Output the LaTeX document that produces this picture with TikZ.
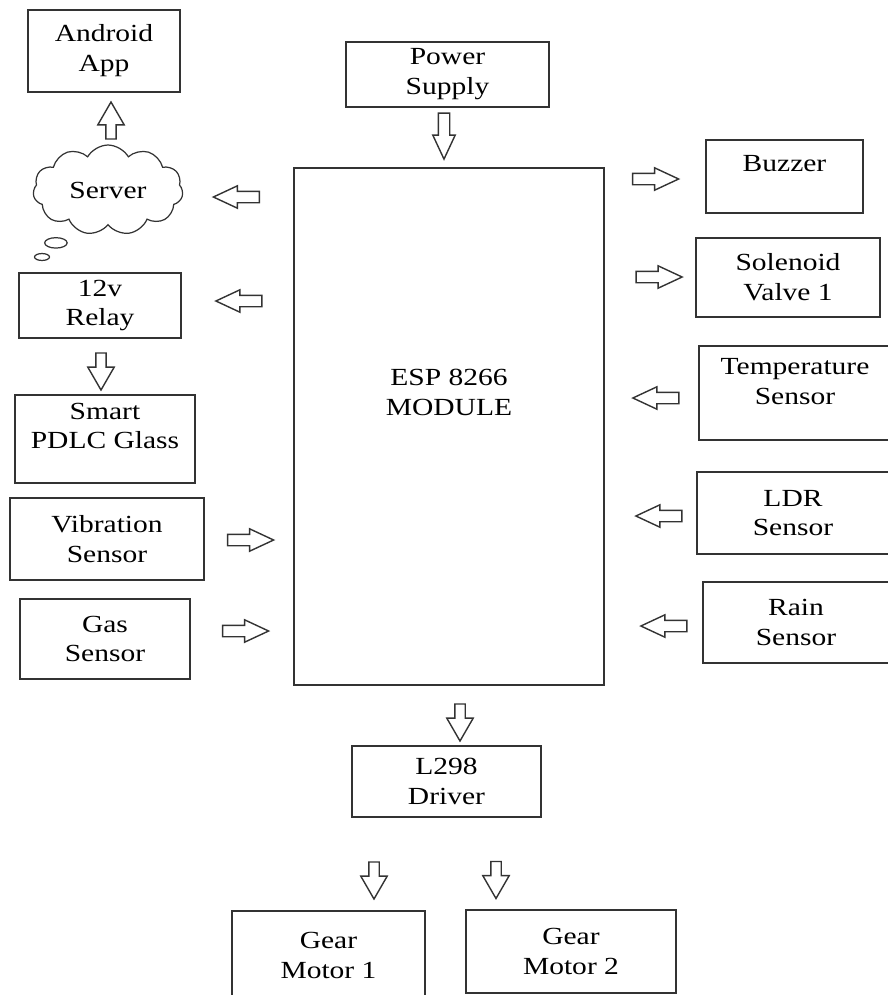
\documentclass[tikz,border=0pt]{standalone}
\usepackage{fontspec}
\setmainfont{Liberation Serif}[FakeStretch=1.2]
\usetikzlibrary{shapes.arrows,shapes.callouts,shapes.symbols}

\begin{document}
\begin{tikzpicture}[
    x=0.02cm, y=-0.02cm,
    box/.style={draw=black!80, line width=0.9pt, align=center,
                font=\fontsize{14}{17}\selectfont, inner sep=2pt},
    blk/.style={single arrow, draw=black!80, line width=0.8pt,
                inner xsep=0pt, inner ysep=0.1cm,
                minimum height=0.92cm,
                single arrow head extend=0.11cm, single arrow tip angle=50},
    blks/.style={blk, inner ysep=0.09cm, minimum height=0.74cm,
                single arrow head extend=0.16cm, single arrow tip angle=60},
]
\useasboundingbox (0,0) rectangle (888,995);
\clip (0,0) rectangle (888,995);

% Centre block
\node[box, minimum width=6.2cm, minimum height=10.34cm,
      label={[align=center, font=\fontsize{14}{17}\selectfont, yshift=0.68cm]center:ESP 8266\\MODULE}]
      (esp) at (449,426.5) {};
\node[box, minimum width=4.06cm, minimum height=1.3cm] (power) at (447.5,74.5) {Power\\Supply};

% Left column
\node[box, minimum width=3.04cm, minimum height=1.64cm] (app) at (104,51) {Android\\App};
\node[cloud callout, draw=black!80, line width=0.7pt, cloud puffs=11, cloud puff arc=120,
      aspect=1.7, minimum width=3.0cm, minimum height=1.8cm, inner sep=0pt,
      font=\fontsize{14}{17}\selectfont,
      callout absolute pointer={(42,257)}] (server) at (108,190) {Server};
\node[box, minimum width=3.24cm, minimum height=1.3cm] (relay) at (100,305.5) {12v\\Relay};
\node[box, minimum width=3.6cm, minimum height=1.76cm] (pdlc) at (105,439) {Smart\\PDLC Glass\\[-2pt]\mbox{}};
\node[box, minimum width=3.88cm, minimum height=1.64cm] (vib) at (107,539) {Vibration\\Sensor};
\node[box, minimum width=3.4cm, minimum height=1.6cm] (gas) at (105,639) {Gas\\Sensor};

% Right column
\node[box, minimum width=3.14cm, minimum height=1.46cm] (buzz) at (784.5,176.5) {Buzzer\\[-2pt]\mbox{}};
\node[box, minimum width=3.68cm, minimum height=1.58cm] (valve) at (788,277.5) {Solenoid\\Valve 1};
\node[box, minimum width=3.84cm, minimum height=1.88cm] (temp) at (795,393) {Temperature\\Sensor\\[-4pt]\mbox{}};
\node[box, minimum width=3.84cm, minimum height=1.64cm] (ldr) at (793,513) {LDR\\Sensor};
\node[box, minimum width=3.72cm, minimum height=1.62cm] (rain) at (796,622.5) {Rain\\Sensor};

% Driver and motors
\node[box, minimum width=3.78cm, minimum height=1.42cm] (drv) at (446.5,781.5) {L298\\Driver};
\node[box, minimum width=3.86cm, minimum height=1.78cm] (gm1) at (328.5,955.5) {Gear\\Motor 1};
\node[box, minimum width=4.2cm, minimum height=1.66cm] (gm2) at (571,951.5) {Gear\\Motor 2};

% Block arrows
\node[blks, rotate=90]  (a1)  at (111,125) {};
\node[blk,  rotate=-90] (a2)  at (444,130) {};
\node[blk,  rotate=180] (a3)  at (242.5,197) {};
\node[blk,  rotate=180] (a4)  at (245,301) {};
\node[blks, rotate=-90] (a5)  at (101,367) {};
\node[blk]              (a6)  at (244.5,540) {};
\node[blk]              (a7)  at (239.5,631) {};
\node[blk]              (a8)  at (649.5,179) {};
\node[blk]              (a9)  at (653,277) {};
\node[blk,  rotate=180] (a10) at (662,398) {};
\node[blk,  rotate=180] (a11) at (665,516) {};
\node[blk,  rotate=180] (a12) at (670,626) {};
\node[blks, rotate=-90] (a13) at (460,718) {};
\node[blks, rotate=-90] (a14) at (374,876) {};
\node[blks, rotate=-90] (a15) at (496,875.5) {};

\end{tikzpicture}
\end{document}
